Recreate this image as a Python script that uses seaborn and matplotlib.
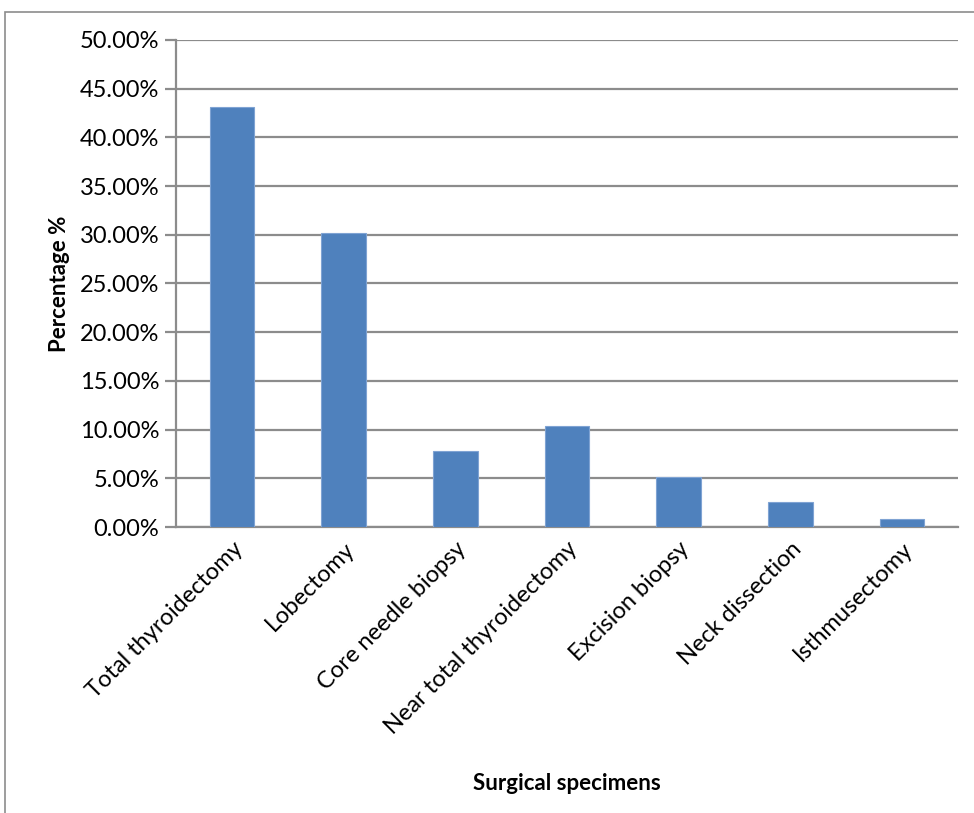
import matplotlib
matplotlib.use("Agg")
import matplotlib.pyplot as plt
import seaborn as sns
import pandas as pd
from matplotlib.patches import Rectangle
from matplotlib.ticker import FuncFormatter, MultipleLocator

categories = [
    "Total thyroidectomy",
    "Lobectomy",
    "Core needle biopsy",
    "Near total thyroidectomy",
    "Excision biopsy",
    "Neck dissection",
    "Isthmusectomy",
]
percentages = [43.10, 30.17, 7.76, 10.34, 5.17, 2.59, 0.86]

df = pd.DataFrame({"specimen": categories, "pct": percentages})

sns.set_theme(style="white")
plt.rcParams["font.family"] = ["Lato", "DejaVu Sans"]

fig = plt.figure(figsize=(9.74, 8.13), dpi=100)
ax = fig.add_axes([176 / 974, 1 - 527 / 813, (958 - 176) / 974, (527 - 40) / 813])

sns.barplot(data=df, x="specimen", y="pct", color="#4F81BD", width=0.4,
            saturation=1, ax=ax, zorder=3, linewidth=0.8, edgecolor="#7FA3D3")

grid_c = "#8C8C8C"
ax.set_ylim(0, 50)
ax.set_xlim(-0.5, len(categories) - 0.5)
ax.yaxis.set_major_locator(MultipleLocator(5))
ax.yaxis.set_major_formatter(FuncFormatter(lambda v, _: f"{v:.2f}%"))
ax.grid(axis="y", color=grid_c, linewidth=1.6, zorder=0)
ax.set_axisbelow(True)

for side in ("top", "right"):
    ax.spines[side].set_visible(False)
for side in ("left", "bottom"):
    ax.spines[side].set_color(grid_c)
    ax.spines[side].set_linewidth(1.6)

fs = 17
ax.tick_params(axis="y", which="major", direction="out", length=8, width=1.6,
               color=grid_c, labelsize=fs, pad=4, left=True)
ax.tick_params(axis="x", length=0, labelsize=fs, pad=8)
for lbl in ax.get_yticklabels():
    lbl.set_color("black")
ax.set_xticks(range(len(categories)))
ax.set_xticklabels(categories, rotation=45, ha="right", rotation_mode="anchor",
                   color="black")

ax.set_xlabel("Surgical specimens", fontsize=16, fontweight="bold",
              color="black")
ax.set_ylabel("Percentage %", fontsize=16, fontweight="bold",
              color="black")
ax.xaxis.set_label_coords(0.5, -0.505)
ax.yaxis.set_label_coords(-0.135, 0.5)

# outer chart frame
fig.patches.append(Rectangle((5 / 974, -0.05), 1.2, 1 - 12 / 813 + 0.05,
                             transform=fig.transFigure, fill=False,
                             edgecolor="#8C8C8C", linewidth=1.2))

fig.savefig("out.png", dpi=100)
